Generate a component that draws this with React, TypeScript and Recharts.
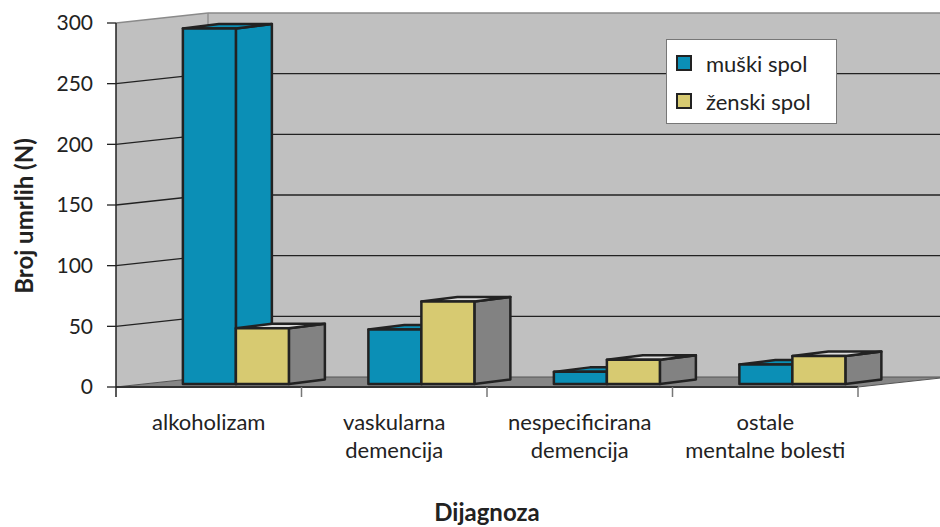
import { BarChart, Bar, XAxis, YAxis, Legend, ReferenceArea } from 'recharts';

const categories = [
  'alkoholizam',
  'vaskularna\ndemencija',
  'nespecificirana\ndemencija',
  'ostale\nmentalne bolesti',
];
const muskiSpol = [293, 45, 10, 16];
const zenskiSpol = [46, 68, 20, 23];
const yTicks = [0, 50, 100, 150, 200, 250, 300];

const FONT = 'Lato, "Open Sans", sans-serif';
const BLUE = '#0b8fb6';
const YELLOW = '#d7ca71';
const SIDE = '#828282';
const WALL = '#c0c0c0';
const EDGE = '#222222';

// 3d projection offsets
const WALL_DX = 92;
const WALL_DY = -10;
const BAR_DX = 36;
const BAR_DY = -4.5;
const BAR_SHIFT_X = 27;
const BAR_SHIFT_Y = -3;

const data = categories.map((name, i) => ({
  name,
  muski: muskiSpol[i],
  zenski: zenskiSpol[i],
}));

const pts = (arr: number[][]) => arr.map((p) => p.join(',')).join(' ');

function Walls(props: any) {
  const { x, y, width: w, height: h } = props;
  const maxV = yTicks[yTicks.length - 1];
  const bx = x + WALL_DX;
  const bottom = y + h;
  return (
    <g>
      <polygon
        points={pts([[x, bottom], [x, y], [bx, y + WALL_DY], [bx, bottom + WALL_DY]])}
        fill={WALL}
      />
      <rect x={bx} y={y + WALL_DY} width={w} height={h} fill={WALL} />
      {yTicks.slice(1).map((t) => {
        const fy = y + h * (1 - t / maxV);
        const top = t === maxV;
        const c = top ? '#8a8a8a' : EDGE;
        return (
          <g key={t}>
            <line x1={x} y1={fy} x2={bx} y2={fy + WALL_DY} stroke={c} strokeWidth={1.3} />
            <line x1={bx} y1={fy + WALL_DY} x2={bx + w} y2={fy + WALL_DY} stroke={c} strokeWidth={1.3} />
          </g>
        );
      })}
      <line x1={bx} y1={y + WALL_DY} x2={bx} y2={bottom + WALL_DY} stroke="#8a8a8a" strokeWidth={1.3} />
      <polygon
        points={pts([[x, bottom], [x + w, bottom], [bx + w, bottom + WALL_DY], [bx, bottom + WALL_DY]])}
        fill="#868686"
        stroke="#555"
        strokeWidth={1}
      />
      <line x1={x} y1={bottom} x2={x + w} y2={bottom} stroke="#333" strokeWidth={2} />
      {categories.map((_, i) => (
        <line
          key={i}
          x1={x + ((i + 1) * w) / categories.length}
          y1={bottom}
          x2={x + ((i + 1) * w) / categories.length}
          y2={bottom + 10}
          stroke="#777"
          strokeWidth={1.5}
        />
      ))}
      <line x1={x} y1={bottom} x2={x} y2={bottom + 10} stroke={EDGE} strokeWidth={1.5} />
    </g>
  );
}

const makeBox = (front: string, top: string, side: string) => (props: any) => {
  const { x, y, width, height } = props;
  const fx = x + BAR_SHIFT_X;
  const fy = y + BAR_SHIFT_Y;
  const r = fx + width;
  const b = fy + height;
  return (
    <g stroke={EDGE} strokeWidth={2.5} strokeLinejoin="round">
      <polygon points={pts([[r, fy], [r + BAR_DX, fy + BAR_DY], [r + BAR_DX, b + BAR_DY], [r, b]])} fill={side} />
      <polygon points={pts([[fx, fy], [r, fy], [r + BAR_DX, fy + BAR_DY], [fx + BAR_DX, fy + BAR_DY]])} fill={top} />
      <rect x={fx} y={fy} width={width} height={height} fill={front} />
    </g>
  );
};

const BlueBox = makeBox(BLUE, BLUE, BLUE);
const YellowBox = makeBox(YELLOW, '#dcdcdc', SIDE);

function CategoryTick(props: any) {
  const { x, y, payload } = props;
  const lines = String(payload.value).split('\n');
  return (
    <text x={x} y={y + 35} textAnchor="middle" fill={EDGE} fontSize={22} fontFamily={FONT}>
      {lines.map((l, i) => (
        <tspan key={i} x={x} dy={i === 0 ? 0 : 28}>
          {l}
        </tspan>
      ))}
    </text>
  );
}

function YTitle(props: any) {
  const { viewBox } = props;
  const cx = 23;
  const cy = viewBox.y + viewBox.height / 2 + 11;
  return (
    <text
      transform={`translate(${cx},${cy}) rotate(-90)`}
      textAnchor="middle"
      dominantBaseline="central"
      fill={EDGE}
      fontSize={24}
      fontWeight={700}
      fontFamily={FONT}
    >
      Broj umrlih (N)
    </text>
  );
}

function LegendBox() {
  const items = [
    { label: 'muški spol', color: BLUE },
    { label: 'ženski spol', color: YELLOW },
  ];
  return (
    <div
      style={{
        background: '#fff',
        border: '1.5px solid #777',
        width: 171,
        height: 85,
        boxSizing: 'border-box',
        paddingTop: 4,
        fontFamily: FONT,
        fontSize: 22,
        color: EDGE,
      }}
    >
      {items.map((it) => (
        <div key={it.label} style={{ display: 'flex', alignItems: 'center', height: 38, paddingLeft: 9 }}>
          <span
            style={{
              display: 'inline-block',
              width: 12,
              height: 12,
              background: it.color,
              border: '2px solid #222',
              marginRight: 14,
            }}
          />
          <span>{it.label}</span>
        </div>
      ))}
    </div>
  );
}

export default function App() {
  return (
    <div style={{ position: 'absolute', left: 0, top: 0, width: 940, height: 527, background: '#fff' }}>
      <BarChart
        width={940}
        height={527}
        data={data}
        margin={{ top: 23, right: 82, bottom: 40, left: 0 }}
        barCategoryGap="21.5%"
        barGap={0}
      >
        <ReferenceArea y1={0} y2={300} shape={Walls} ifOverflow="visible" zIndex={-100} />
        <XAxis
          dataKey="name"
          height={100}
          tick={<CategoryTick />}
          tickLine={false}
          axisLine={false}
          interval={0}
          label={{
            value: 'Dijagnoza',
            position: 'insideBottom',
            offset: -34,
            style: { fontFamily: FONT, fontWeight: 700, fontSize: 24, fill: EDGE },
          }}
        />
        <YAxis
          width={116}
          domain={[0, 300]}
          ticks={yTicks}
          tickSize={9}
          tickMargin={14}
          tick={{ fill: EDGE, fontSize: 21, fontFamily: FONT }}
          axisLine={{ stroke: EDGE, strokeWidth: 1.5 }}
          tickLine={{ stroke: EDGE, strokeWidth: 1.3 }}
          label={<YTitle />}
        />
        <Legend
          layout="vertical"
          align="center"
          verticalAlign="middle"
          width={171}
          wrapperStyle={{ top: 39, left: 666 }}
          content={<LegendBox />}
        />
        <Bar dataKey="muski" name="muški spol" fill={BLUE} shape={BlueBox} isAnimationActive={false} />
        <Bar dataKey="zenski" name="ženski spol" fill={YELLOW} shape={YellowBox} isAnimationActive={false} />
      </BarChart>
    </div>
  );
}
